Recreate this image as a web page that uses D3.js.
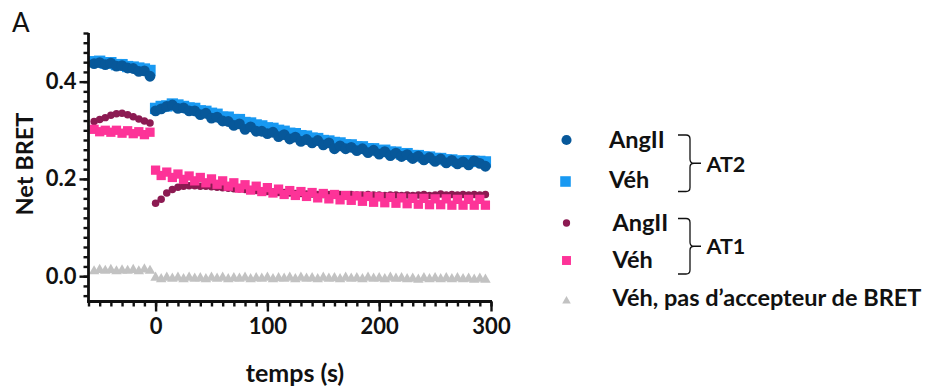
<!DOCTYPE html>
<html>
<head>
<meta charset="utf-8">
<script src="https://cdn.jsdelivr.net/npm/d3@7"></script>
<style>
  html, body { margin: 0; padding: 0; background: #fff; }
  svg { display: block; }
  text { font-family: Lato, "Open Sans", sans-serif; fill: #111; }
</style>
</head>
<body>
<svg id="chart" width="933" height="390"></svg>
<script>
// ---------------- DATA ----------------
const timesPre  = [-55, -50, -45, -40, -35, -30, -25, -20, -15, -10, -5];
const timesPost = [0, 5, 10, 15, 20, 25, 30, 35, 40, 45, 50, 55, 60, 65, 70, 75, 80, 85, 90, 95,
                   100, 105, 110, 115, 120, 125, 130, 135, 140, 145, 150, 155, 160, 165, 170, 175, 180, 185, 190, 195,
                   200, 205, 210, 215, 220, 225, 230, 235, 240, 245, 250, 255, 260, 265, 270, 275, 280, 285, 290, 295];

// AT2 - Véh (light blue squares)
const at2VehPre  = [0.441, 0.442, 0.438, 0.439, 0.435, 0.435, 0.431, 0.430, 0.428, 0.426, 0.423];
const at2VehPost = [0.345, 0.349, 0.350, 0.354, 0.352, 0.349, 0.346, 0.345, 0.340, 0.339, 0.335, 0.333, 0.327, 0.327, 0.322, 0.322, 0.316, 0.315, 0.311, 0.309,
                    0.305, 0.304, 0.300, 0.298, 0.294, 0.293, 0.289, 0.288, 0.284, 0.283, 0.279, 0.278, 0.275, 0.274, 0.270, 0.270, 0.266, 0.266, 0.262, 0.262,
                    0.258, 0.259, 0.255, 0.255, 0.251, 0.252, 0.248, 0.248, 0.245, 0.245, 0.242, 0.242, 0.239, 0.239, 0.236, 0.237, 0.237, 0.236, 0.236, 0.235];
// AT2 - AngII (dark blue circles)
const at2AngPre  = [0.437, 0.439, 0.435, 0.438, 0.432, 0.433, 0.428, 0.427, 0.421, 0.422, 0.411];
const at2AngPost = [0.340, 0.344, 0.349, 0.352, 0.345, 0.346, 0.340, 0.340, 0.332, 0.335, 0.325, 0.327, 0.319, 0.318, 0.310, 0.313, 0.302, 0.307, 0.298, 0.298,
                    0.293, 0.296, 0.287, 0.291, 0.282, 0.286, 0.277, 0.281, 0.274, 0.279, 0.270, 0.274, 0.262, 0.268, 0.262, 0.265, 0.258, 0.262, 0.254, 0.259,
                    0.251, 0.256, 0.248, 0.253, 0.246, 0.250, 0.242, 0.247, 0.239, 0.244, 0.236, 0.241, 0.233, 0.238, 0.231, 0.235, 0.229, 0.237, 0.232, 0.226];
// AT1 - AngII (maroon circles)
const at1AngPre  = [0.318, 0.322, 0.326, 0.331, 0.334, 0.335, 0.332, 0.328, 0.323, 0.319, 0.315];
const at1AngPost = [0.150, 0.158, 0.171, 0.178, 0.183, 0.185, 0.186, 0.186, 0.185, 0.185, 0.184, 0.183, 0.182, 0.181, 0.180, 0.179, 0.178, 0.177, 0.176, 0.175,
                    0.174, 0.173, 0.172, 0.172, 0.171, 0.170, 0.170, 0.169, 0.169, 0.168, 0.168, 0.168, 0.167, 0.168, 0.167, 0.168, 0.167, 0.167, 0.168, 0.167,
                    0.167, 0.166, 0.167, 0.167, 0.166, 0.167, 0.166, 0.167, 0.168, 0.166, 0.167, 0.169, 0.167, 0.168, 0.167, 0.168, 0.167, 0.168, 0.167, 0.168];
// AT1 - Véh (pink squares)
const at1VehPre  = [0.302, 0.297, 0.300, 0.296, 0.300, 0.294, 0.299, 0.293, 0.297, 0.291, 0.296];
const at1VehPost = [0.218, 0.207, 0.214, 0.203, 0.210, 0.199, 0.206, 0.196, 0.203, 0.192, 0.200, 0.189, 0.196, 0.185, 0.192, 0.181, 0.188, 0.177, 0.185, 0.174,
                    0.182, 0.171, 0.179, 0.168, 0.176, 0.166, 0.174, 0.164, 0.172, 0.161, 0.170, 0.159, 0.168, 0.157, 0.166, 0.156, 0.165, 0.154, 0.164, 0.152,
                    0.163, 0.151, 0.162, 0.150, 0.161, 0.149, 0.160, 0.148, 0.160, 0.147, 0.159, 0.147, 0.159, 0.146, 0.158, 0.146, 0.158, 0.146, 0.158, 0.146];
// Véh, no BRET acceptor (grey triangles)
const noAccPre  = [0.010, 0.013, 0.011, 0.013, 0.010, 0.012, 0.011, 0.013, 0.010, 0.014, 0.011];
const noAccPost = [-0.003, -0.006, -0.003, -0.005, -0.003, -0.006, -0.003, -0.005, -0.004, -0.006, -0.003, -0.005, -0.003, -0.006, -0.004, -0.005, -0.003, -0.006, -0.004, -0.005,
                   -0.003, -0.006, -0.004, -0.005, -0.003, -0.006, -0.003, -0.005, -0.004, -0.006, -0.003, -0.005, -0.004, -0.006, -0.003, -0.005, -0.004, -0.006, -0.003, -0.005,
                   -0.004, -0.006, -0.003, -0.005, -0.004, -0.006, -0.005, -0.007, -0.004, -0.006, -0.004, -0.006, -0.004, -0.006, -0.004, -0.006, -0.005, -0.007, -0.005, -0.007];

const xMajorTicks = [0, 100, 200, 300];
const yMajorTicks = [0.0, 0.2, 0.4];
const xDomain = [-60, 300];
const yDomain = [-0.05, 0.5];

const panelLabel = "A";
const xTitle = "temps (s)";
const yTitle = "Net BRET";
const legendLabels = ["AngII", "Véh", "AngII", "Véh", "Véh, pas d’accepteur de BRET"];
const groupLabels = ["AT2", "AT1"];

// ---------------- DRAW ----------------
const svg = d3.select("#chart");
const x = d3.scaleLinear().domain(xDomain).range([88.5, 491]);
const y = d3.scaleLinear().domain(yDomain).range([300.5, 33]);
const axisY0 = 301.5, axisX0 = 88.5;

const series = [
  { name: "at2Veh", pre: at2VehPre, post: at2VehPost, type: d3.symbolSquare, size: 128, color: "#1899f2" },
  { name: "at2Ang", pre: at2AngPre, post: at2AngPost, type: d3.symbolCircle, size: 92,  color: "#07589a" },
  { name: "at1Ang", pre: at1AngPre, post: at1AngPost, type: d3.symbolCircle, size: 44,  color: "#8c1a52" },
  { name: "at1Veh", pre: at1VehPre, post: at1VehPost, type: d3.symbolSquare, size: 86,  color: "#fd3398" },
  { name: "noAcc",  pre: noAccPre,  post: noAccPost,  type: d3.symbolTriangle, size: 48, color: "#c2c2c2" }
];

series.forEach(s => {
  const pts = timesPre.map((t, i) => [t, s.pre[i]]).concat(timesPost.map((t, i) => [t, s.post[i]]));
  svg.append("g").selectAll("path").data(pts).join("path")
    .attr("transform", d => `translate(${x(d[0])},${y(d[1])})`)
    .attr("d", d3.symbol().type(s.type).size(s.size))
    .attr("fill", s.color);
});

// Axes
function styleAxis(g, width) {
  g.selectAll(".domain").attr("stroke", "#111").attr("stroke-width", width);
  g.selectAll(".tick line").attr("stroke", "#111").attr("stroke-width", 2.4);
}
const fontTick = 22;

// y minor
const yMinor = d3.range(-0.04, 0.501, 0.02);
svg.append("g").attr("transform", `translate(${axisX0},0)`)
  .call(d3.axisLeft(y).tickValues(yMinor).tickSize(5).tickFormat("").tickSizeOuter(0))
  .call(g => styleAxis(g, 2.8))
  .call(g => g.select(".domain").attr("d", `M0,${y(0.5)}V${axisY0 + 1}`));
// y major
svg.append("g").attr("transform", `translate(${axisX0},0)`)
  .call(d3.axisLeft(y).tickValues(yMajorTicks).tickSize(9).tickPadding(3).tickFormat(d3.format(".1f")).tickSizeOuter(0))
  .call(g => g.select(".domain").remove())
  .call(g => styleAxis(g, 2.8))
  .call(g => g.selectAll("text").attr("font-size", fontTick).attr("font-weight", 700).attr("fill", "#111").attr("font-family", "Lato"));

// x minor
const xMinor = d3.range(-60, 301, 10);
svg.append("g").attr("transform", `translate(0,${axisY0})`)
  .call(d3.axisBottom(x).tickValues(xMinor).tickSize(5).tickFormat("").tickSizeOuter(0))
  .call(g => styleAxis(g, 2.8))
  .call(g => g.select(".domain").attr("d", `M${axisX0 - 1.4},0H${x(300) + 1}`));
// x major
svg.append("g").attr("transform", `translate(0,${axisY0})`)
  .call(d3.axisBottom(x).tickValues(xMajorTicks).tickSize(10).tickPadding(7).tickFormat(d3.format("d")).tickSizeOuter(0))
  .call(g => g.select(".domain").remove())
  .call(g => styleAxis(g, 2.8))
  .call(g => g.selectAll("text").attr("font-size", fontTick).attr("font-weight", 700).attr("fill", "#111").attr("font-family", "Lato"));

// Titles
svg.append("text").attr("x", 12).attr("y", 32).attr("font-size", 26).attr("font-weight", 400).text(panelLabel);
svg.append("text").attr("x", 295).attr("y", 382).attr("text-anchor", "middle")
  .attr("font-size", 25).attr("font-weight", 700).text(xTitle);
svg.append("text").attr("transform", "translate(33,164) rotate(-90)").attr("text-anchor", "middle")
  .attr("font-size", 23.5).attr("font-weight", 700).text(yTitle);

// Legend
const legendItems = [
  { s: series[1], sx: 566.5, sy: 140,   tx: 609,   ty: 147.5 },
  { s: series[0], sx: 565.5, sy: 181.5, tx: 609,   ty: 188 },
  { s: series[2], sx: 566.5, sy: 223,   tx: 612.5, ty: 231 },
  { s: series[3], sx: 566.5, sy: 260.5, tx: 612.5, ty: 268 },
  { s: series[4], sx: 566.5, sy: 301,   tx: 612.5, ty: 306 }
];
const legendSizes = [80, 112, 42, 80, 32];
legendItems.forEach((it, i) => {
  svg.append("path").attr("transform", `translate(${it.sx},${it.sy})`)
    .attr("d", d3.symbol().type(it.s.type).size(legendSizes[i])).attr("fill", it.s.color);
  svg.append("text").attr("x", it.tx).attr("y", it.ty).attr("font-size", 23.5).attr("font-weight", 700).text(legendLabels[i]);
});

function brace(top, bottom) {
  const mid = (top + bottom) / 2;
  return `M678,${top}H686 Q690,${top} 690,${top + 4} V${mid - 4} Q690,${mid} 694,${mid} H701 M694,${mid} Q690,${mid} 690,${mid + 4} V${bottom - 4} Q690,${bottom} 686,${bottom} H678`;
}
const braces = [[135, 191.5, 172], [218.5, 274, 254]];
braces.forEach((b, i) => {
  svg.append("path").attr("d", brace(b[0], b[1])).attr("fill", "none").attr("stroke", "#111").attr("stroke-width", 1.3);
  svg.append("text").attr("x", 706.5).attr("y", b[2]).attr("font-size", 21.5).attr("font-weight", 700).text(groupLabels[i]);
});
</script>
</body>
</html>
